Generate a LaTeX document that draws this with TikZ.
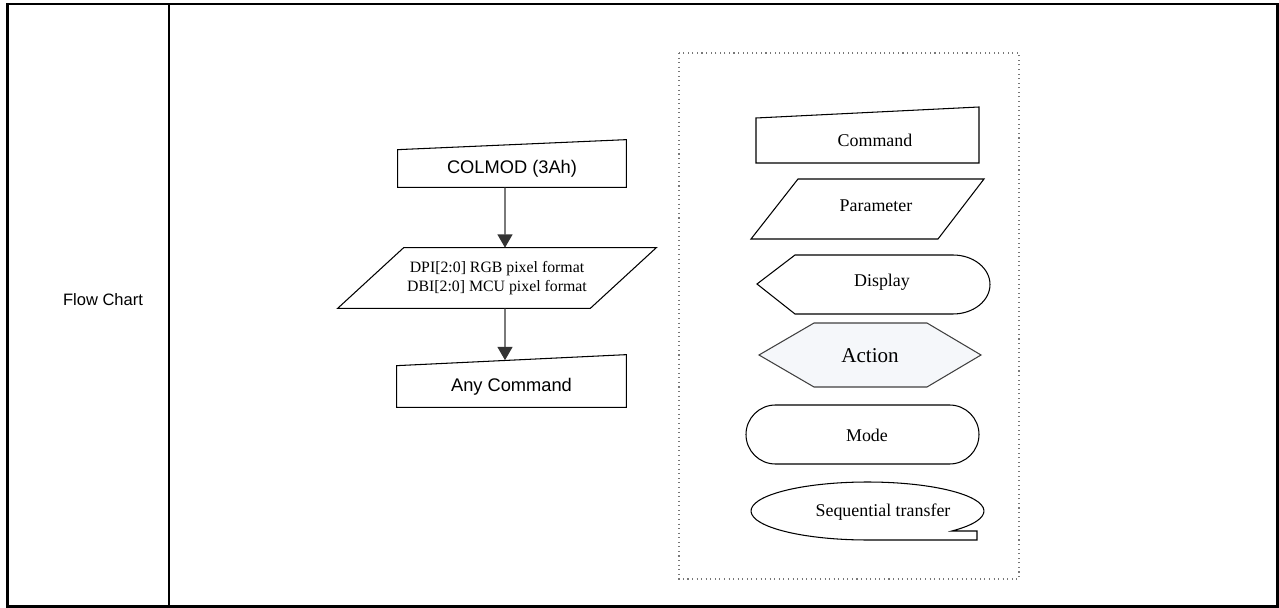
\documentclass[tikz,border=0pt]{standalone}
\usepackage{fontspec}
\setmainfont{Liberation Serif}
\setsansfont{Liberation Sans}
\usepackage{xcolor}
\usetikzlibrary{arrows.meta}
\usetikzlibrary{calc}
\definecolor{actfill}{RGB}{245, 247, 250}
\definecolor{keygray}{RGB}{120, 120, 120}

\tikzset{
  flowbox/.style={inner sep=0pt, font=\sffamily\fontsize{10.4}{12}\selectfont},
  flowarrow/.style={draw=black!80, line width=0.6pt, -{Triangle[width=8.5pt,length=7.5pt]}},
  keyline/.style={draw=black, line width=0.6pt},
  keytext/.style={inner sep=0pt, font=\fontsize{10.2}{12}\selectfont}
}

\begin{document}
\begin{tikzpicture}[x=0.02cm, y=-0.02cm]
  \def\frm{1.7pt}
  \def\s{33}
  \useasboundingbox (0,0) rectangle (1279,608);

%table:
  \draw[line width=\frm] (7.5,4) rectangle (1277.5,606.5);
  \draw[line width=1.3pt] (169,4) -- (169,606.5);
  \node[font=\sffamily\fontsize{9.4}{12}\selectfont] (title) at (103,300) {Flow Chart};
%%%%%%

%flow:
  \node[flowbox, minimum width=4.56cm, minimum height=0.74cm] (colmod) at (512,168.5) {COLMOD (3Ah)};
  \draw[keyline] (colmod.south west) -- (colmod.north west) -- ($(colmod.north east)+(0,-10)$) -- (colmod.south east) -- cycle;

  \node[inner sep=0pt, minimum width=5.04cm, minimum height=1.2cm, align=center,
        font=\fontsize{9}{10.8}\selectfont] (dpi) at (497,278)
        {DPI[2:0] RGB pixel format\\DBI[2:0] MCU pixel format};
  \draw[keyline] ($(dpi.north west)+(\s,0)$) -- ($(dpi.north east)+(\s,0)$)
     -- ($(dpi.south east)+(-\s,0)$) -- ($(dpi.south west)+(-\s,0)$) -- cycle;

  \node[flowbox, minimum width=4.58cm, minimum height=0.82cm] (anycmd) at (511.5,386.5) {Any Command};
  \draw[keyline] (anycmd.south west) -- (anycmd.north west) -- ($(anycmd.north east)+(0,-11)$) -- (anycmd.south east) -- cycle;

  \draw[flowarrow] ([xshift=-0.14cm]colmod.south) -- ([xshift=0.16cm]dpi.north);
  \draw[flowarrow] ([xshift=0.16cm]dpi.south) -- ([xshift=-0.13cm, yshift=0.11cm]anycmd.north);

%legend:
  \draw[keygray, dotted, line width=0.6pt] (679,53) rectangle (1019,579);

  \draw[keyline] (756,163) -- (756,118) -- (979,107) -- (979,163) -- cycle;
  \node[keytext] (cmdkey) at (875,140) {Command};

  \draw[keyline] (798,179) -- (984,179) -- (938,239) -- (751,239) -- cycle;
  \node[keytext] (parkey) at (876,206) {Parameter};

  \draw[keyline] (757,284) -- (795,255) -- (953,255) arc[start angle=90, end angle=-90, x radius=0.74cm, y radius=0.59cm] -- (795,314) -- cycle;
  \node[keytext] (dispkey) at (882,282) {Display};

  \draw[keyline, draw=black!75, fill=actfill] (759,355) -- (814,323) -- (927,323) -- (981,355) -- (927,387) -- (814,387) -- cycle;
  \node[keytext, font=\fontsize{12}{14}\selectfont] (actkey) at (870,356) {Action};

  \draw[keyline, rounded corners=0.59cm] (746,405) rectangle (979,464);
  \node[keytext] (modekey) at (867,435) {Mode};

  \draw[keyline] ($(867.5,511)+(-43.6:2.33cm and 0.58cm)$) arc[start angle=-43.6, end angle=270, x radius=2.33cm, y radius=0.58cm]
     -- (977,540) -- (977,531) -- cycle;
  \node[keytext] (seqkey) at (883,512) {Sequential transfer};
\end{tikzpicture}
\end{document}
